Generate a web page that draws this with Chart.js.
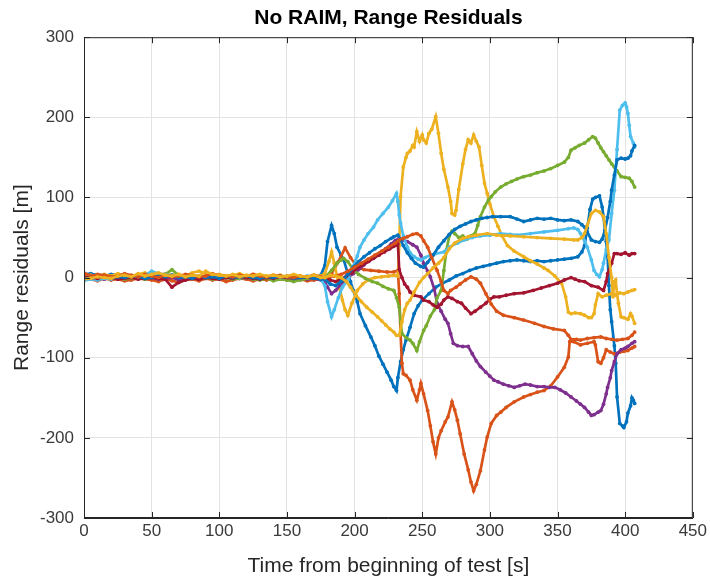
<!DOCTYPE html>
<html>
<head>
<meta charset="utf-8">
<script src="https://cdn.jsdelivr.net/npm/chart.js@4.4.1/dist/chart.umd.min.js"></script>
<style>
  html, body { margin: 0; padding: 0; background: #ffffff; }
  #wrap { width: 710px; height: 583px; }
</style>
</head>
<body>
<div id="wrap"><canvas id="c" width="710" height="583"></canvas></div>
<script>
// ---------------- DATA ----------------
const titleText = 'No RAIM, Range Residuals';
const xLabel = 'Time from beginning of test [s]';
const yLabel = 'Range residuals [m]';
const xTicks = [0, 50, 100, 150, 200, 250, 300, 350, 400, 450];
const yTicks = [-300, -200, -100, 0, 100, 200, 300];

// common sample times for the quiet first part of the test
const tEarly = [0,5,10,15,20,25,30,35,40,45,50,55,60,65,70,75,80,85,90,95,100,105,110,115,120,125,130,135,140,145,150,155,160,165,170,175];

// series colours (MATLAB default order)
const seriesColors = ['#0072BD','#D95319','#EDB120','#7E2F8E','#77AC30','#4DBEEE','#A2142F','#0072BD','#D95319','#EDB120'];

// ---- series 1 (blue) ----
const s1Early = [4,5,3,2,4,3,1,2,3,0,2,-1,1,3,2,0,1,2,-1,0,2,1,-1,0,1,2,0,-1,1,0,2,1,0,-2,-1,3];
const s1Late = [[178,15],[180,45],[183,65],[185,55],[187,38],[190,28],[192,22],[195,5],[197,-5],[199,-16],[202,-30],[204,-45],[208,-60],[212,-74],[215,-85],[218,-98],[221,-108],[224,-118],[227,-128],[229,-136],[231,-141],[232,-125],[234,-105],[236,-90],[238,-78],[241,-62],[244,-45],[247,-35],[250,-28],[255,-20],[260,-12],[265,-7],[270,-3],[275,2],[280,5],[285,9],[290,12],[295,14],[300,16],[305,18],[310,20],[315,21],[320,22],[325,21],[330,20],[335,21],[340,20],[345,21],[350,22],[355,23],[360,24],[365,26],[368,32],[370,40],[372,62],[374,85],[376,98],[378,100],[381,102],[383,88],[384,76],[386,45],[387,26],[388,-10],[389,-40],[390,-55],[392,-85],[393,-107],[394,-149],[396,-182],[398,-185],[399,-187],[401,-180],[402,-169],[404,-160],[405,-150],[406,-153],[407,-157]];

// ---- series 2 (orange) ----
const s2Early = [-3,-2,-4,-1,-3,-2,-4,-3,-1,-2,-3,-5,-2,-4,-6,-3,-2,-4,-1,-3,-2,-5,-3,-1,-2,-4,-2,-3,-1,-2,-3,-1,-2,-4,-3,-2];
const s2Late = [[178,-2],[183,5],[188,20],[193,37],[197,25],[202,13],[207,10],[212,9],[218,8],[224,7],[229,7],[232,9],[233,-20],[234,-70],[235,-107],[236,-120],[238,-122],[241,-128],[243,-140],[246,-153],[248,-140],[249,-132],[251,-145],[254,-166],[256,-185],[258,-205],[260,-220],[262,-200],[264,-191],[267,-180],[269,-174],[272,-155],[274,-165],[276,-178],[278,-195],[281,-220],[284,-240],[286,-255],[288,-266],[290,-258],[293,-241],[296,-215],[298,-199],[301,-182],[305,-172],[308,-168],[312,-162],[318,-155],[325,-149],[330,-146],[335,-143],[340,-141],[345,-135],[350,-124],[355,-112],[358,-99],[359,-80],[362,-80],[367,-84],[372,-82],[377,-80],[378,-84],[380,-105],[382,-107],[384,-100],[386,-90],[389,-93],[392,-95],[396,-93],[399,-92],[402,-91],[405,-88],[407,-86]];

// ---- series 3 (yellow) ----
const s3Early = [2,3,1,4,2,5,3,2,4,6,3,2,5,3,4,2,6,8,5,3,4,2,3,5,2,4,3,1,2,3,1,2,0,1,3,2];
const s3Late = [[178,5],[181,20],[183,32],[185,18],[187,2],[189,-14],[191,-28],[193,-40],[195,-47],[198,-32],[202,-16],[206,-8],[210,-3],[215,0],[220,1],[225,2],[229,3],[232,2],[233,40],[234,101],[236,138],[238,150],[239,155],[241,158],[243,165],[244,163],[246,182],[248,170],[250,178],[251,172],[253,168],[255,180],[257,185],[260,201],[262,180],[264,155],[266,135],[269,113],[271,95],[272,80],[274,78],[275,84],[277,110],[280,142],[282,160],[284,172],[286,168],[288,178],[290,170],[292,163],[294,140],[296,118],[298,105],[300,92],[303,76],[306,64],[309,52],[313,40],[318,33],[325,26],[330,21],[335,17],[340,12],[343,9],[348,2],[353,-7],[356,-24],[358,-43],[360,-45],[363,-44],[367,-45],[370,-47],[373,-50],[375,-50],[377,-45],[378,-34],[380,-20],[383,-24],[386,-22],[390,-20],[393,-22],[396,-19],[399,-20],[402,-18],[405,-16],[407,-15]];

// ---- series 4 (purple) ----
const s4Early = [0,-1,1,-2,0,-1,2,0,-1,1,0,-2,-1,0,-3,-1,0,-2,1,0,-1,0,1,-1,0,-2,0,1,-1,0,1,-1,0,-2,-1,-3];
const s4Late = [[178,-5],[180,-12],[183,-20],[186,-16],[189,-10],[192,-5],[195,0],[199,5],[203,10],[207,16],[211,21],[215,26],[219,31],[223,36],[227,42],[230,46],[233,49],[236,47],[239,45],[243,41],[246,38],[249,28],[251,18],[254,8],[256,1],[259,-15],[261,-32],[264,-42],[267,-52],[269,-57],[271,-70],[273,-82],[276,-85],[280,-86],[284,-86],[287,-95],[290,-104],[293,-111],[297,-118],[300,-123],[303,-128],[306,-130],[310,-133],[314,-135],[318,-137],[322,-135],[326,-133],[330,-134],[335,-136],[340,-136],[344,-137],[348,-137],[352,-140],[356,-144],[360,-149],[364,-154],[367,-158],[370,-162],[373,-168],[375,-172],[377,-171],[380,-168],[382,-166],[384,-158],[386,-145],[387,-137],[389,-125],[390,-116],[392,-105],[394,-95],[397,-90],[400,-88],[402,-86],[405,-82],[407,-80]];

// ---- series 5 (green) ----
const s5Early = [-1,0,-2,1,-1,0,-2,-1,0,-2,1,2,4,10,3,0,-1,1,0,-2,-1,0,-2,-1,0,-2,-3,-1,-4,-2,-3,-5,-3,-1,0,-1];
const s5Late = [[178,0],[183,9],[187,18],[190,22],[192,24],[195,20],[199,10],[203,4],[208,-1],[213,-5],[217,-7],[221,-11],[225,-14],[229,-16],[231,-25],[233,-37],[234,-55],[235,-70],[238,-75],[241,-78],[243,-82],[246,-91],[248,-80],[251,-66],[253,-60],[256,-48],[259,-40],[261,-25],[264,-16],[266,9],[268,35],[270,52],[272,58],[274,55],[277,50],[280,52],[283,48],[286,52],[289,55],[291,65],[293,76],[296,88],[299,97],[301,101],[304,107],[308,113],[312,117],[316,120],[320,123],[325,126],[330,128],[335,131],[340,133],[345,136],[350,140],[355,144],[358,150],[360,159],[363,162],[366,165],[370,168],[373,172],[376,176],[378,174],[380,168],[382,162],[384,157],[386,152],[388,147],[390,142],[392,138],[394,133],[397,126],[400,125],[403,124],[405,120],[407,113]];

// ---- series 6 (light blue) ----
const s6Early = [-4,-2,-3,-1,-2,0,-1,2,1,3,8,5,4,2,3,1,0,2,1,-1,0,1,2,0,1,-1,0,1,2,0,1,-1,0,2,1,-2];
const s6Late = [[178,-10],[180,-30],[183,-49],[185,-40],[188,-25],[191,-12],[195,-3],[199,14],[202,27],[204,38],[207,47],[210,55],[214,63],[217,72],[221,80],[225,88],[228,96],[231,105],[232,95],[233,78],[234,68],[236,52],[239,38],[241,31],[244,26],[247,23],[249,22],[252,25],[256,28],[260,30],[266,32],[270,38],[276,43],[281,47],[287,50],[293,52],[300,53],[308,55],[315,54],[320,53],[330,55],[340,57],[350,59],[358,61],[362,62],[365,60],[367,55],[370,46],[372,38],[375,22],[377,9],[379,4],[381,1],[383,10],[384,18],[386,35],[388,47],[390,80],[392,109],[394,160],[396,209],[398,215],[400,218],[401,213],[402,205],[403,190],[404,176],[406,168],[407,163]];

// ---- series 7 (dark red) ----
const s7Early = [1,0,-1,1,0,-2,-1,0,-2,-1,0,-1,-2,-12,-6,-3,-1,-2,0,-1,-2,0,-1,1,0,-1,-2,0,-1,1,0,-1,0,1,0,-1];
const s7Late = [[178,0],[182,-3],[186,-5],[190,-2],[194,2],[198,6],[202,12],[206,16],[210,20],[214,24],[218,28],[222,32],[226,36],[229,39],[232,42],[233,10],[235,0],[237,-8],[239,-12],[241,-18],[244,-22],[249,-24],[251,-28],[255,-30],[258,-34],[261,-37],[264,-33],[266,-28],[269,-24],[272,-26],[276,-30],[279,-32],[282,-38],[286,-45],[289,-42],[293,-37],[297,-32],[300,-27],[303,-24],[307,-24],[312,-22],[318,-20],[325,-19],[332,-16],[338,-13],[344,-10],[350,-7],[355,-3],[360,0],[363,-2],[366,-4],[370,-5],[375,-10],[380,-12],[384,-16],[386,-5],[387,5],[390,18],[392,30],[394,30],[397,29],[400,31],[403,28],[405,30],[407,30]];

// ---- series 8 (blue) ----
const s8Early = [-2,0,2,1,-1,1,0,2,1,-1,0,2,1,3,0,1,-1,2,0,1,-1,2,0,1,2,0,-1,1,0,2,1,-1,0,1,-1,-2];
const s8Late = [[178,-2],[182,-8],[186,-10],[190,-5],[195,4],[199,13],[203,20],[207,26],[211,31],[215,36],[219,40],[223,45],[227,49],[229,51],[232,53],[234,47],[236,40],[239,31],[242,24],[245,18],[249,14],[251,13],[254,19],[258,28],[262,38],[266,46],[270,54],[274,60],[278,64],[282,67],[286,70],[290,72],[294,74],[298,75],[302,76],[308,76],[315,76],[320,73],[325,70],[330,72],[335,74],[340,73],[345,74],[350,72],[355,71],[360,72],[365,70],[368,66],[370,63],[372,57],[375,47],[378,45],[381,44],[383,48],[385,59],[387,75],[389,95],[390,109],[392,128],[394,147],[397,149],[400,148],[402,149],[404,152],[405,158],[407,165]];

// ---- series 9 (orange) ----
const s9Early = [6,2,4,3,1,2,5,3,1,4,2,0,3,1,2,4,3,1,2,5,3,2,1,3,2,4,2,1,3,2,1,0,2,1,3,1];
const s9Late = [[178,0],[185,2],[190,4],[195,8],[200,13],[205,18],[210,23],[215,28],[220,33],[225,38],[230,43],[233,47],[236,49],[239,51],[243,54],[246,55],[249,52],[251,46],[254,38],[257,25],[261,9],[264,-5],[266,-16],[269,-20],[271,-16],[275,-12],[278,-8],[282,-3],[286,1],[290,-2],[293,-7],[297,-20],[301,-33],[305,-42],[310,-47],[318,-50],[325,-53],[333,-57],[340,-61],[347,-64],[355,-66],[358,-72],[360,-77],[364,-77],[367,-78],[372,-76],[377,-75],[382,-74],[386,-76],[390,-77],[394,-78],[398,-77],[402,-76],[405,-72],[407,-68]];

// ---- series 10 (yellow) ----
const s10Early = [-2,-1,1,0,-1,2,3,1,5,2,4,6,3,2,4,1,3,2,8,4,3,2,4,1,3,2,4,2,3,1,2,4,2,1,3,0];
const s10Late = [[178,0],[182,3],[186,2],[190,0],[194,-5],[197,-12],[201,-22],[205,-30],[209,-37],[213,-43],[217,-49],[220,-54],[223,-59],[226,-64],[229,-68],[231,-72],[233,-72],[235,-55],[237,-40],[239,-32],[241,-28],[244,-18],[248,-6],[251,0],[254,5],[258,12],[262,18],[266,25],[270,36],[274,43],[280,49],[284,51],[290,53],[298,55],[305,53],[315,52],[325,51],[335,50],[345,49],[355,48],[362,47],[365,47],[368,50],[370,55],[372,65],[375,80],[378,84],[381,82],[384,76],[386,55],[388,25],[390,0],[391,-24],[392,-5],[393,-3],[394,-20],[395,-32],[397,-49],[399,-50],[402,-52],[404,-45],[405,-48],[407,-57]];

const seriesEarly = [s1Early,s2Early,s3Early,s4Early,s5Early,s6Early,s7Early,s8Early,s9Early,s10Early];
const seriesLate  = [s1Late,s2Late,s3Late,s4Late,s5Late,s6Late,s7Late,s8Late,s9Late,s10Late];

// ---------------- CHART ----------------
const FONT = "'Liberation Sans', Arial, Helvetica, sans-serif";

function buildPoints(early, late) {
  const pts = early.map((v, i) => ({ x: tEarly[i], y: v }));
  late.forEach(p => pts.push({ x: p[0], y: p[1] }));
  return pts;
}

const datasets = seriesEarly.map((early, i) => ({
  data: buildPoints(early, seriesLate[i]),
  borderColor: seriesColors[i],
  backgroundColor: seriesColors[i],
  pointBackgroundColor: seriesColors[i],
  pointBorderWidth: 0,
  pointRadius: 1.9,
  borderWidth: 2.7,
  tension: 0,
  fill: false,
  order: seriesEarly.length - i
}));

const framePlugin = {
  id: 'frame',
  afterDatasetsDraw(chart) {
    const { ctx, chartArea: a, scales } = chart;
    const x = scales.x, y = scales.y;
    ctx.save();
    ctx.strokeStyle = '#262626';
    ctx.lineWidth = 1;
    ctx.strokeRect(a.left + 0.5, a.top + 0.5, a.right - a.left - 1, a.bottom - a.top - 1);
    ctx.beginPath();
    const tl = 6;
    x.ticks.forEach(t => {
      const px = Math.round(x.getPixelForValue(t.value)) + 0.5;
      ctx.moveTo(px, a.bottom); ctx.lineTo(px, a.bottom - tl);
      ctx.moveTo(px, a.top); ctx.lineTo(px, a.top + tl);
    });
    y.ticks.forEach(t => {
      const py = Math.round(y.getPixelForValue(t.value)) + 0.5;
      ctx.moveTo(a.left, py); ctx.lineTo(a.left + tl, py);
      ctx.moveTo(a.right, py); ctx.lineTo(a.right - tl, py);
    });
    ctx.stroke();
    ctx.restore();
  }
};

new Chart(document.getElementById('c'), {
  type: 'line',
  data: { datasets },
  plugins: [framePlugin],
  options: {
    responsive: false,
    animation: false,
    devicePixelRatio: 1,
    layout: { padding: { left: 0, right: 17, top: 0, bottom: 0 } },
    plugins: {
      legend: { display: false },
      tooltip: { enabled: false },
      title: {
        display: true,
        text: titleText,
        fullSize: false,
        color: '#000000',
        font: { family: FONT, size: 21, weight: 'bold', lineHeight: 1.2 },
        padding: { top: 6, bottom: 6 }
      }
    },
    scales: {
      x: {
        type: 'linear',
        min: 0, max: 450,
        afterBuildTicks(scale) { scale.ticks = xTicks.map(v => ({ value: v })); },
        afterFit(scale) { scale.height = 65; },
        ticks: {
          color: '#3a3a3a',
          font: { family: FONT, size: 17 },
          padding: 3,
          maxRotation: 0,
          autoSkip: false
        },
        grid: { color: '#e3e3e3', lineWidth: 1, drawTicks: false },
        border: { display: true, color: '#262626' },
        title: {
          display: true,
          text: xLabel,
          color: '#262626',
          font: { family: FONT, size: 21, lineHeight: 1.2 },
          padding: { top: 0, bottom: 4 }
        }
      },
      y: {
        type: 'linear',
        min: -300, max: 300,
        afterBuildTicks(scale) { scale.ticks = yTicks.map(v => ({ value: v })); },
        afterFit(scale) { scale.width = 84; },
        ticks: {
          color: '#3a3a3a',
          font: { family: FONT, size: 17 },
          padding: 10,
          autoSkip: false
        },
        grid: { color: '#e3e3e3', lineWidth: 1, drawTicks: false },
        border: { display: true, color: '#262626' },
        title: {
          display: true,
          text: yLabel,
          color: '#262626',
          font: { family: FONT, size: 21, lineHeight: 1.2 },
          padding: { top: 10, bottom: 0 }
        }
      }
    }
  }
});
</script>
</body>
</html>
